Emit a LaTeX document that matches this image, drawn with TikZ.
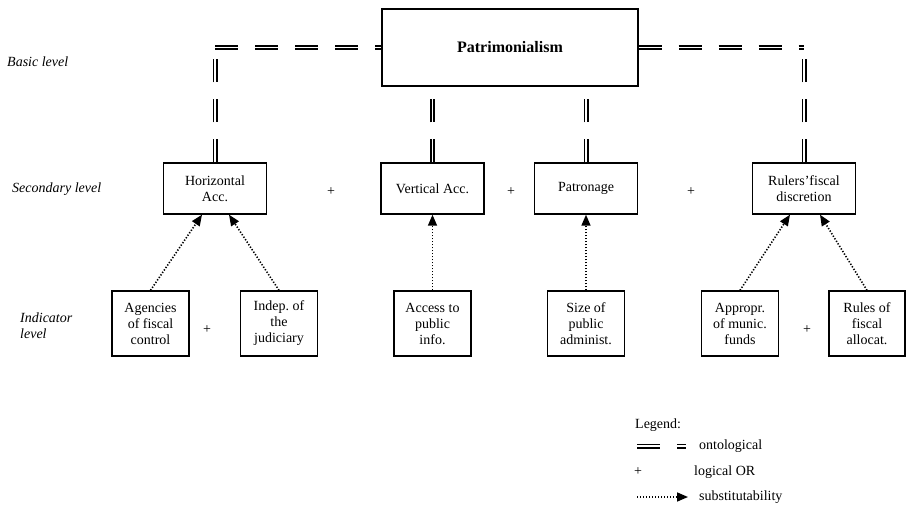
\documentclass[tikz,border=0pt]{standalone}
\usepackage{fontspec}
\setmainfont{Liberation Serif}
\usetikzlibrary{arrows.meta,calc}
\frenchspacing
\begin{document}
\begin{tikzpicture}[x=1pt,y=-1pt,
  box/.style={draw, line width=1.4pt, align=center, inner sep=0pt, font=\fontsize{14}{16}\selectfont},
  secbox/.style={box, minimum width=103pt, minimum height=51pt},
  indbox/.style={box, minimum width=77pt, minimum height=65pt},
  lbl/.style={font=\fontsize{14}{16}\selectfont\itshape, anchor=west, align=left, inner sep=0pt},
  txt/.style={font=\fontsize{14}{16}\selectfont, inner sep=0pt},
  ltxt/.style={txt, anchor=west},
  onto/.style={double, line width=1.6pt, double distance=1.8pt, dash pattern=on 23pt off 17pt},
  subst/.style={line width=1.6pt, dash pattern=on 1.3pt off 1.7pt, -{Triangle[length=11pt,width=9pt]}},
]
\useasboundingbox (0,0) rectangle (906,508);

% level labels
\node[lbl] (lbasic) at (7,62) {Basic level};
\node[lbl] (lsec) at (12,189) {Secondary level};
\node[lbl] (lind) at (20,326) {Indicator\\level};

% basic level
\node[box, minimum width=256pt, minimum height=77pt, font=\fontsize{16}{19}\selectfont\bfseries] (pat) at (510,47.5) {Patrimonialism};
\coordinate (cL) at (215,47.5);
\coordinate (cR) at (804,47.5);

% secondary level
\node[secbox] (hor) at (215,188.5) {Horizontal\\Acc.};
\node[secbox] (ver) at (432.5,188.5) {Vertical Acc.};
\node[secbox] (patr) at (586,188.5) {Patronage};
\node[secbox] (rul) at (804,188.5) {Rulers'fiscal\\discretion};
\node[txt] (p1) at (331,192) {+};
\node[txt] (p2) at (511,192) {+};
\node[txt] (p3) at (691,192) {+};

% indicator level
\node[indbox] (ag) at (150.5,323.5) {Agencies\\of fiscal\\control};
\node[indbox] (ind) at (279,323.5) {Indep. of\\the\\judiciary};
\node[indbox] (acc) at (432.5,323.5) {Access to\\public\\info.};
\node[indbox] (size) at (586,323.5) {Size of\\public\\administ.};
\node[indbox] (app) at (740,323.5) {Appropr.\\of munic.\\funds};
\node[indbox, minimum width=76pt] (rules) at (867,323.5) {Rules of\\fiscal\\allocat.};
\node[txt] (p4) at (207,330) {+};
\node[txt] (p5) at (807,330) {+};

% ontological connectors
\draw[onto] (cL) -- (pat.west);
\draw[onto] (pat.east) -- (cR);
\draw[onto] (hor.north) -- (cL);
\draw[onto] (rul.north) -- (cR);
\draw[onto] (ver.north) -- (ver.north |- pat.south);
\draw[onto] (patr.north) -- (patr.north |- pat.south);

% substitutability arrows
\draw[subst] (ag.north) -- ($(hor.south)+(-13,0)$);
\draw[subst] (ind.north) -- ($(hor.south)+(14,0)$);
\draw[subst] (acc.north) -- (ver.south);
\draw[subst] (size.north) -- (patr.south);
\draw[subst] (app.north) -- ($(rul.south)+(-14,0)$);
\draw[subst] (rules.north) -- ($(rul.south)+(16,0)$);

% legend
\node[ltxt] (leg) at (635,425) {Legend:};
\coordinate (lg1) at (637,446);
\coordinate (lg2) at (686,446);
\draw[onto] (lg1) -- (lg2);
\node[ltxt] (lont) at (699,446) {ontological};
\node[txt] (lplus) at (638,472) {+};
\node[ltxt] (lor) at (694,472) {logical OR};
\coordinate (lgA) at (637,497);
\coordinate (lgB) at (688,497);
\draw[subst] (lgA) -- (lgB);
\node[ltxt] (lsub) at (699,497) {substitutability};
\end{tikzpicture}
\end{document}
